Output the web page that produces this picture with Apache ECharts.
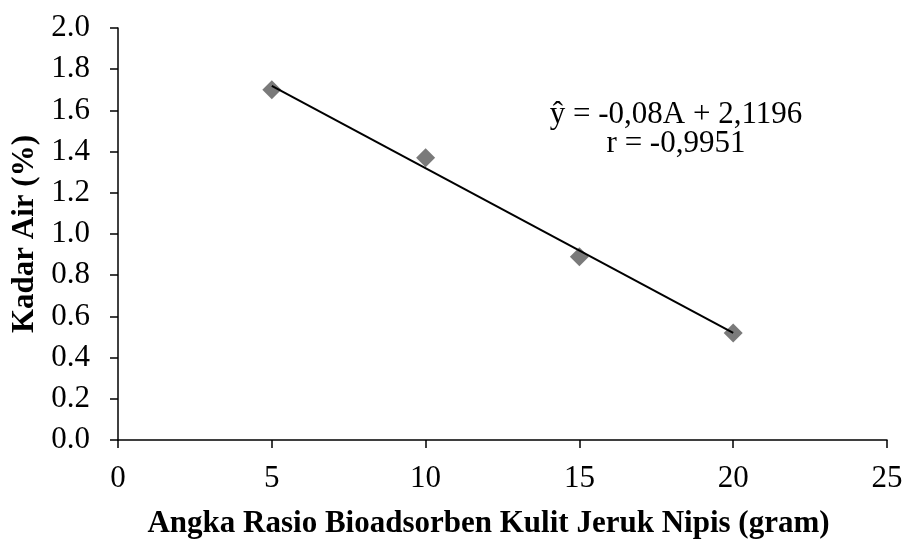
<!DOCTYPE html>
<html>
<head>
<meta charset="utf-8">
<script src="https://cdn.jsdelivr.net/npm/echarts@6/dist/echarts.min.js"></script>
<style>html,body{margin:0;padding:0;background:#fff}#c{width:904px;height:539px}</style>
</head>
<body>
<div id="c"></div>
<script>
var xValues = [5, 10, 15, 20];
var yValues = [1.70, 1.37, 0.89, 0.52];
var trendX = [5, 20];
var slope = -0.08, intercept = 2.1196;
var eqLines = ['ŷ = -0,08A + 2,1196', 'r = -0,9951'];
var xTitle = 'Angka Rasio Bioadsorben Kulit Jeruk Nipis (gram)';
var yTitle = 'Kadar Air (%)';

var font = 'Liberation Serif';
var chart = echarts.init(document.getElementById('c'));
var pts = xValues.map(function(x, i){ return [x, yValues[i]]; });
var trend = trendX.map(function(x){ return [x, slope * x + intercept]; });

chart.setOption({
  animation: false,
  grid: {left: 118, right: 17, top: 28, bottom: 99, containLabel: false, outerBoundsMode: 'none'},
  xAxis: {
    type: 'value', min: 0, max: 25, interval: 5,
    name: xTitle, nameLocation: 'middle', nameGap: 68,
    nameTextStyle: {fontFamily: font, fontSize: 31, fontWeight: 'bold', color: '#000', padding: [0, 28, 0, 0]},
    axisLine: {lineStyle: {color: '#000', width: 1.5}},
    axisTick: {show: true, length: 8, lineStyle: {color: '#000', width: 1.5}},
    axisLabel: {fontFamily: font, fontSize: 31, color: '#000', margin: 23},
    splitLine: {show: false}
  },
  yAxis: {
    type: 'value', min: 0, max: 2, interval: 0.2,
    name: yTitle, nameLocation: 'middle', nameGap: 76, nameRotate: 90,
    nameTextStyle: {fontFamily: font, fontSize: 31, fontWeight: 'bold', color: '#000'},
    axisLine: {show: true, lineStyle: {color: '#000', width: 1.5}},
    axisTick: {show: true, length: 8, lineStyle: {color: '#000', width: 1.5}},
    axisLabel: {fontFamily: font, fontSize: 31, color: '#000', margin: 28,
      formatter: function(v){ return v.toFixed(1); }},
    splitLine: {show: false}
  },
  series: [
    {type: 'line', data: trend, symbol: 'none', lineStyle: {color: '#000', width: 2}, z: 3},
    {type: 'scatter', data: pts, symbol: 'diamond', symbolSize: 19,
     itemStyle: {color: '#595959'}, z: 2}
  ],
  graphic: [{
    type: 'text', x: 676, y: 100,
    style: {text: eqLines.join('\n'), fontFamily: font, fontSize: 31, lineHeight: 29,
      fill: '#000', align: 'center', verticalAlign: 'top'}
  }]
});
</script>
</body>
</html>
